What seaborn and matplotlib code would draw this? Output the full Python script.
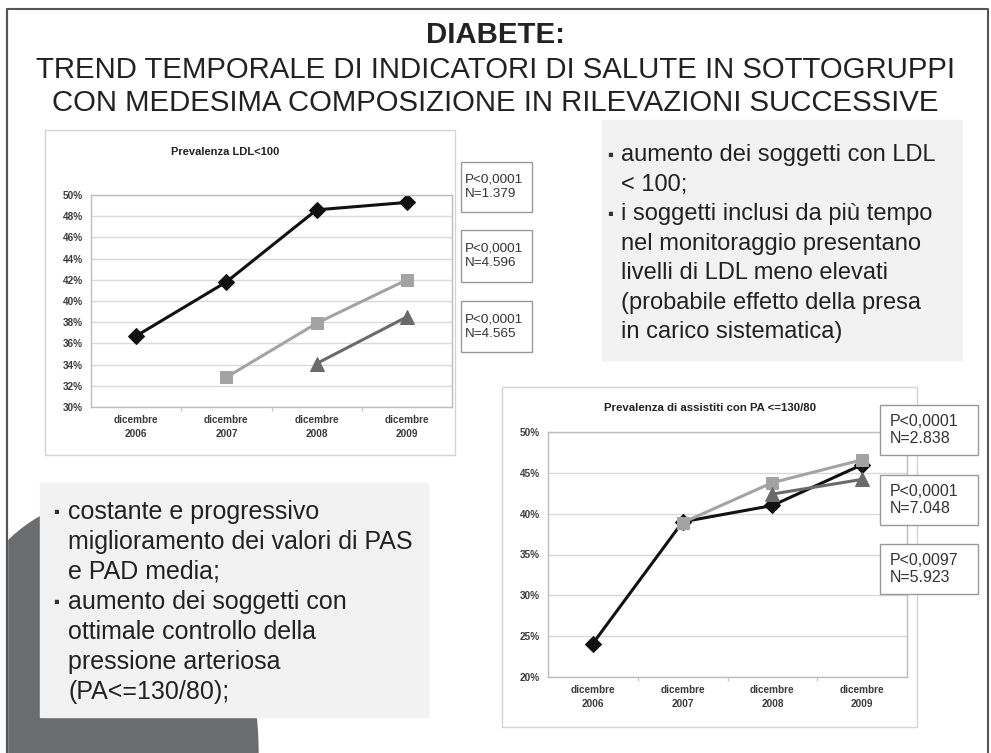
import numpy as np
import pandas as pd
import matplotlib
matplotlib.use('Agg')
import matplotlib.pyplot as plt
from matplotlib.patches import Rectangle, Ellipse
from matplotlib.ticker import PercentFormatter
import seaborn as sns

anni = ['dicembre\n2006', 'dicembre\n2007', 'dicembre\n2008', 'dicembre\n2009']

# Prevalenza LDL<100 (%)
ldl_n1379 = [36.7, 41.8, 48.6, 49.3]
ldl_n4596 = [np.nan, 32.8, 37.9, 42.0]
ldl_n4565 = [np.nan, np.nan, 34.1, 38.5]
ldl_box = ['P<0,0001\nN=1.379', 'P<0,0001\nN=4.596', 'P<0,0001\nN=4.565']

# Prevalenza di assistiti con PA <=130/80 (%)
pa_n2838 = [24.1, 39.0, 41.0, 46.0]
pa_n7048 = [np.nan, 38.9, 43.8, 46.6]
pa_n5923 = [np.nan, np.nan, 42.4, 44.2]
pa_box = ['P<0,0001\nN=2.838', 'P<0,0001\nN=7.048', 'P<0,0097\nN=5.923']

titolo = ['DIABETE:',
          'TREND TEMPORALE DI INDICATORI DI SALUTE IN SOTTOGRUPPI',
          'CON MEDESIMA COMPOSIZIONE IN RILEVAZIONI SUCCESSIVE']

testo_dx = [('aumento dei soggetti con LDL', True), ('< 100;', False),
            ('i soggetti inclusi da più tempo', True), ('nel monitoraggio presentano', False),
            ('livelli di LDL meno elevati', False), ('(probabile effetto della presa', False),
            ('in carico sistematica)', False)]
testo_sx = [('costante e progressivo', True), ('miglioramento dei valori di PAS', False),
            ('e PAD media;', False), ('aumento dei soggetti con', True),
            ('ottimale controllo della', False), ('pressione arteriosa', False),
            ('(PA<=130/80);', False)]

W, H = 991, 753
sns.set_theme(style='white')
plt.rcParams['font.family'] = ['Liberation Sans', 'DejaVu Sans']

fig = plt.figure(figsize=(W / 100, H / 100), dpi=100)
fig.patch.set_facecolor('white')


def px_axes(x0, y0, x1, y1, z=1):
    return fig.add_axes([x0 / W, 1 - y1 / H, (x1 - x0) / W, (y1 - y0) / H], zorder=z)


# sfondo in coordinate pixel
bg = px_axes(0, 0, W, H, z=0)
bg.set_xlim(0, W)
bg.set_ylim(H, 0)
bg.axis('off')

# bordo slide
bg.plot([7, 7, 988, 988], [H, 9, 9, H], color='#555555', lw=1.5)
# forma grigia in basso a sinistra
bg.add_patch(Ellipse((95, 755), 326, 506, color='#6b6c6e', zorder=1))
bg.add_patch(Rectangle((0, 0), 7, H, color='white', zorder=1.5))
bg.plot([7, 7], [9, H], color='#555555', lw=1.5, zorder=1.6)

# titolo
for testo, y, peso in zip(titolo, [35, 70, 103], ['bold', 'normal', 'normal']):
    bg.text(495, y, testo, ha='center', va='center', fontsize=21.2, fontweight=peso,
            color='#222222')

# pannelli di testo
bg.add_patch(Rectangle((602, 120), 360, 240, color='#f2f2f2', zorder=2))
bg.add_patch(Rectangle((40, 483), 388, 234, color='#f2f2f2', zorder=2))
for i, (riga, bullet) in enumerate(testo_dx):
    y = 155 + i * 29.5
    if bullet:
        bg.text(610, y, '\u25aa', ha='center', va='center', fontsize=12, color='#333333', zorder=3)
    bg.text(621, y, riga, ha='left', va='center', fontsize=17, color='#222222', zorder=3)
for i, (riga, bullet) in enumerate(testo_sx):
    y = 512 + i * 30
    if bullet:
        bg.text(56, y, '\u25aa', ha='center', va='center', fontsize=12, color='#333333', zorder=3)
    bg.text(68, y, riga, ha='left', va='center', fontsize=18, color='#222222', zorder=3)

# riquadri dei grafici
bg.add_patch(Rectangle((45, 130), 410, 325, facecolor='white', edgecolor='#d4d4d4', lw=1, zorder=2))
bg.add_patch(Rectangle((502, 387), 415, 340, facecolor='white', edgecolor='#d4d4d4', lw=1, zorder=2))
bg.text(225, 152, 'Prevalenza LDL<100', ha='center', va='center', fontsize=8,
        fontweight='bold', color='#222222', zorder=3)
bg.text(710, 408, 'Prevalenza di assistiti con PA <=130/80', ha='center', va='center',
        fontsize=8.2, fontweight='bold', color='#222222', zorder=3)

stili = [dict(color='#111111', marker='D', markersize=8),
         dict(color='#a3a3a3', marker='s', markersize=8),
         dict(color='#6a6a6a', marker='^', markersize=9.5)]


def disegna(ax, serie, ymin, ymax, passo):
    for valori, st in zip(serie, stili):
        df = pd.DataFrame({'pos': range(len(anni)), 'val': valori}).dropna()
        sns.lineplot(data=df, x='pos', y='val', ax=ax, color=st['color'], lw=2.2,
                     marker=st['marker'], markersize=st['markersize'],
                     markeredgecolor=st['color'], markerfacecolor=st['color'])
    ax.set_xlim(-0.5, len(anni) - 0.5)
    ax.set_ylim(ymin, ymax)
    ax.set_yticks(np.arange(ymin, ymax + 0.1, passo))
    ax.yaxis.set_major_formatter(PercentFormatter(decimals=0))
    ax.set_xticks(range(len(anni)))
    ax.set_xticklabels(anni, linespacing=1.5)
    ax.set_xticks([0.5, 1.5, 2.5], minor=True)
    ax.tick_params(axis='both', which='major', length=0, labelsize=7.2, labelcolor='#3a3a3a', pad=6)
    ax.tick_params(axis='x', which='minor', length=3, color='#cccccc', direction='out', bottom=True)
    for lab in ax.get_xticklabels() + ax.get_yticklabels():
        lab.set_fontweight('bold')
    ax.grid(axis='y', color='#d9d9d9', lw=1)
    ax.set_axisbelow(True)
    for sp in ax.spines.values():
        sp.set_color('#bdbdbd')
        sp.set_linewidth(1)
    ax.set_xlabel('')
    ax.set_ylabel('')
    ax.set_facecolor('white')


ax1 = px_axes(91, 195, 452, 407, z=2)
disegna(ax1, [ldl_n1379, ldl_n4596, ldl_n4565], 30, 50, 2)

ax2 = px_axes(548, 432, 907, 677, z=2)
disegna(ax2, [pa_n2838, pa_n7048, pa_n5923], 20, 50, 5)

# riquadri con p-value sopra ai grafici
top = px_axes(0, 0, W, H, z=5)
top.set_xlim(0, W)
top.set_ylim(H, 0)
top.axis('off')
top.patch.set_alpha(0)

for (y0, y1), testo in zip([(162, 212), (230, 282), (301, 352)], ldl_box):
    top.add_patch(Rectangle((461, y0), 71, y1 - y0, facecolor='white', edgecolor='#9a9a9a', lw=1))
    top.text(465, (y0 + y1) / 2, testo, ha='left', va='center', fontsize=9.7,
             color='#333333', linespacing=1.3)
for (y0, y1), testo in zip([(405, 455), (475, 525), (544, 594)], pa_box):
    top.add_patch(Rectangle((880, y0), 98, y1 - y0, facecolor='white', edgecolor='#9a9a9a', lw=1))
    top.text(890, (y0 + y1) / 2, testo, ha='left', va='center', fontsize=11.5,
             color='#333333', linespacing=1.2)

fig.savefig('out.png', dpi=100)
